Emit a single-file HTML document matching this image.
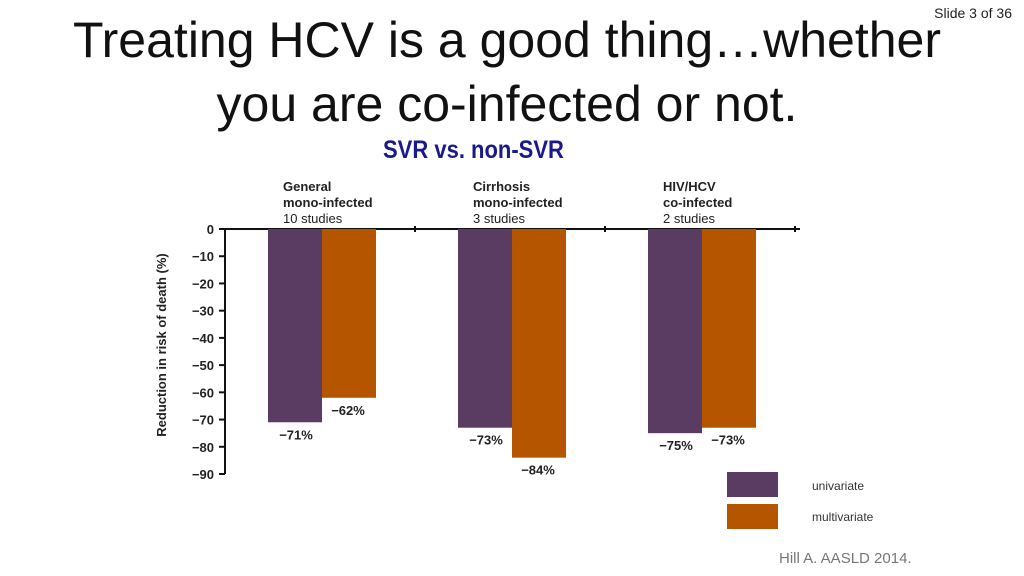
<!DOCTYPE html>
<html><head><meta charset="utf-8"><style>
body{margin:0;width:1024px;height:576px;background:#fff;overflow:hidden;position:relative;font-family:"Liberation Sans",sans-serif}
.t{position:absolute;white-space:nowrap}
</style></head><body>
<div class="t" style="right:12px;top:5px;font-size:14px;color:#222">Slide 3 of 36</div>
<div class="t" style="left:0;width:1014px;text-align:center;top:8px;font-size:50px;line-height:64px;color:#111;transform:scaleX(1.0);transform-origin:507px 0">Treating HCV is a good thing…whether<br>you are co-infected or not.</div>
<div class="t" style="left:383px;top:136px;font-size:25px;font-weight:bold;color:#1a1a8c;transform:scaleX(0.88);transform-origin:0 0">SVR vs. non-SVR</div>
<div class="t" style="left:779px;top:550px;font-size:15px;color:#777">Hill A. AASLD 2014.</div>
<svg id="chart" width="1024" height="576" style="position:absolute;left:0;top:0" font-family="Liberation Sans, sans-serif"></svg>
<script>
const categories=[["General","mono-infected","10 studies"],["Cirrhosis","mono-infected","3 studies"],["HIV/HCV","co-infected","2 studies"]];
const univariate=[-71,-73,-75];
const multivariate=[-62,-84,-73];
const yTicks=[0,-10,-20,-30,-40,-50,-60,-70,-80,-90];
const seriesNames=["univariate","multivariate"];
const colors=["#5a3b62","#b65500"];
const svg=document.getElementById('chart');const NS='http://www.w3.org/2000/svg';
function el(t,a,p){const e=document.createElementNS(NS,t);for(const k in a)e.setAttribute(k,a[k]);(p||svg).appendChild(e);return e;}
const y=v=>229+(-v)*(245/90);
const axL=225,axR=800,gw=190;
const x=i=>268+gw*i;
const bw=54;
let a=el('line',{x1:axL,y1:y(0),x2:axR,y2:y(0),stroke:'#111','stroke-width':2});

a=el('line',{x1:axL,y1:y(0),x2:axL,y2:y(-90),stroke:'#111','stroke-width':2});

for(let i=1;i<=3;i++){const l=el('line',{x1:axL+gw*i,y1:y(0)-3,x2:axL+gw*i,y2:y(0)+3,stroke:'#111','stroke-width':2});
}
yTicks.forEach(v=>{const l=el('line',{x1:axL-6,y1:y(v),x2:axL,y2:y(v),stroke:'#111','stroke-width':2});

const t=el('text',{x:axL-11,y:y(v)+5,'text-anchor':'end','font-size':13,'font-weight':'bold',fill:'#222'});t.textContent=v===0?'0':'−'+(-v);
});
const yt=el('text',{x:0,y:0,transform:'translate(166,345) rotate(-90)','text-anchor':'middle','font-size':13,'font-weight':'bold',fill:'#222'});
yt.textContent='Reduction in risk of death (%)';

categories.forEach((c,i)=>{
 c.forEach((s,j)=>{const t=el('text',{x:x(i)+15,y:191+j*16,'font-size':13,'font-weight':j<2?'bold':'normal',fill:'#222'});t.textContent=s;
 });
 [univariate[i],multivariate[i]].forEach((v,k)=>{
  const bx=x(i)+k*bw;
  const r=el('rect',{x:bx,y:y(0),width:bw,height:y(v)-y(0),fill:colors[k]});
  
  const ly=y(v)+17;
  const t=el('text',{x:k===0?bx+28:bx+26,y:ly,'text-anchor':'middle','font-size':13,'font-weight':'bold',fill:'#222'});
  t.textContent='−'+(-v)+'%';
  
 });
});
seriesNames.forEach((n,k)=>{
 const r=el('rect',{x:727,y:472+k*32,width:51,height:25,fill:colors[k]});
 
 const t=el('text',{x:812,y:490+k*31,'font-size':12,fill:'#333'});t.textContent=n;
 
});
</script>
</body></html>
